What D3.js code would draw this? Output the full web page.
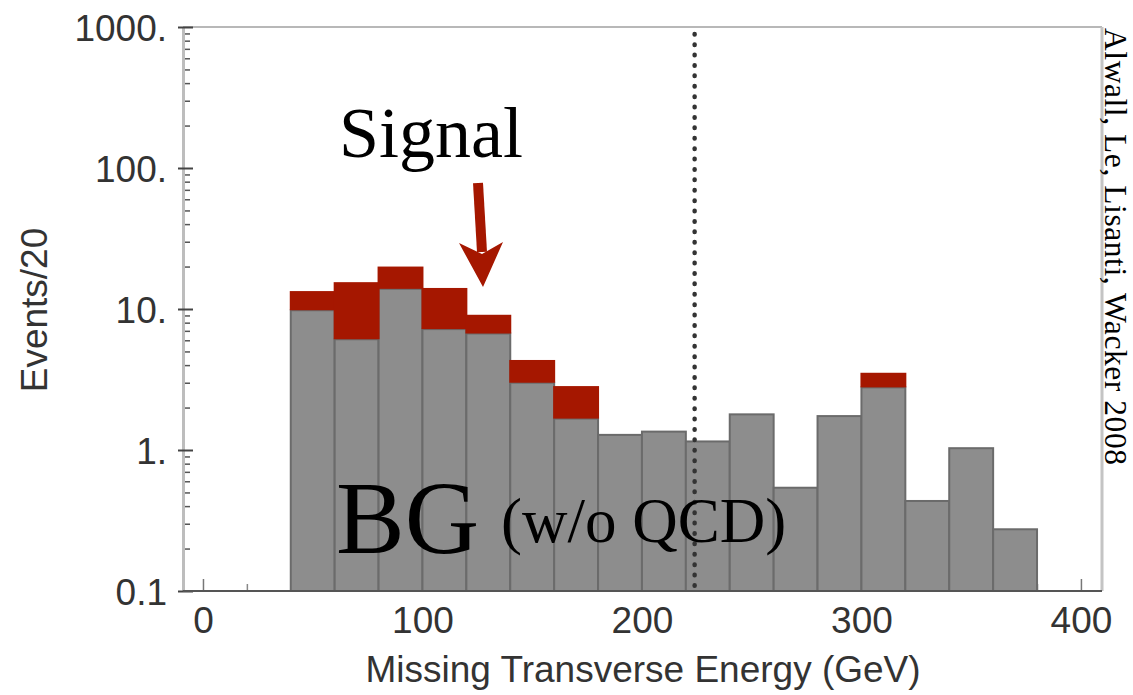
<!DOCTYPE html>
<html>
<head>
<meta charset="utf-8">
<script src="https://cdn.jsdelivr.net/npm/d3@7"></script>
<style>
  html, body { margin: 0; padding: 0; background: #fff; }
  svg { display: block; }
  .sans { font-family: "Liberation Sans", Arial, Helvetica, sans-serif; fill: #333; }
  .serif { font-family: "Liberation Serif", "Times New Roman", serif; fill: #000; }
</style>
</head>
<body>
<svg id="chart" width="1133" height="695"></svg>
<script>
// Missing transverse energy histogram: background (w/o QCD) with signal stacked on top
const binStarts   = [40, 60, 80, 100, 120, 140, 160, 180, 200, 220, 240, 260, 280, 300, 320, 340, 360];
const binWidth    = 20;
const bgValues    = [9.8, 6.1, 13.9, 7.2, 6.7, 3.0, 1.67, 1.28, 1.35, 1.15, 1.79, 0.54, 1.74, 2.78, 0.435, 1.03, 0.274];
const signalValues= [3.6, 9.4, 6.1, 6.9, 2.4, 1.35, 1.17, 0, 0, 0, 0, 0, 0, 0.75, 0, 0, 0];
const cutValue    = 224;
const yTickValues = [0.1, 1, 10, 100, 1000];
const yTickLabels = ["0.1", "1.", "10.", "100.", "1000."];
const xTickValues = [0, 100, 200, 300, 400];
const xTickLabels = ["0", "100", "200", "300", "400"];

const svg = d3.select("#chart");
const plotLeft = 183, plotRight = 1102, plotTop = 27, plotBottom = 591;

const x = d3.scaleLinear().domain([-9.1, 409.6]).range([plotLeft, plotRight]);
const y = d3.scaleLog().domain([0.1, 1000]).range([plotBottom, plotTop]);

// frame (top and right)
svg.append("line").attr("x1", plotLeft).attr("x2", plotRight).attr("y1", plotTop).attr("y2", plotTop)
  .attr("stroke", "#b8b8b8").attr("stroke-width", 2);
svg.append("line").attr("x1", plotRight).attr("x2", plotRight).attr("y1", plotTop).attr("y2", plotBottom)
  .attr("stroke", "#c4c4c4").attr("stroke-width", 3);

// x axis: minor ticks every 20 and labelled major ticks, pointing into the plot
const minorX = d3.range(0, 401, 20).filter(v => v % 100 !== 0);
const gxMinor = svg.append("g").attr("transform", `translate(0,${plotBottom})`)
  .call(d3.axisBottom(x).tickValues(minorX).tickSizeInner(-7).tickSizeOuter(0).tickFormat(""));
gxMinor.select(".domain").remove();
gxMinor.selectAll(".tick line").attr("stroke", "#888").attr("stroke-width", 1.5);

const gx = svg.append("g").attr("transform", `translate(0,${plotBottom})`)
  .call(d3.axisBottom(x).tickValues(xTickValues).tickSizeInner(-12).tickSizeOuter(0).tickPadding(14)
    .tickFormat((d, i) => xTickLabels[i]));
gx.select(".domain").remove();
gx.selectAll(".tick line").attr("stroke", "#777").attr("stroke-width", 1.5);
gx.selectAll(".tick text").attr("class", "sans").attr("font-size", 37).attr("fill", "#333")
  .attr("y", 0).attr("dy", 0).attr("transform", "translate(0,42)");

// y axis: decades labelled, minor ticks 2..9
const minorY = [];
for (let p = -1; p < 3; p++) for (let m = 2; m <= 9; m++) minorY.push(m * Math.pow(10, p));
const gyMinor = svg.append("g").attr("transform", `translate(${plotLeft},0)`)
  .call(d3.axisLeft(y).tickValues(minorY).tickSizeInner(-7).tickSizeOuter(0).tickFormat(""));
gyMinor.select(".domain").remove();
gyMinor.selectAll(".tick line").attr("stroke", "#555").attr("stroke-width", 1.5);

const gy = svg.append("g").attr("transform", `translate(${plotLeft},0)`)
  .call(d3.axisLeft(y).tickValues(yTickValues).tickSizeInner(-10).tickSizeOuter(0).tickPadding(16)
    .tickFormat((d, i) => yTickLabels[i]));
gy.select(".domain").attr("stroke", "#bdbdbd").attr("stroke-width", 3);
gy.selectAll(".tick line").attr("x1", -5).attr("stroke", "#444").attr("stroke-width", 2);
gy.selectAll(".tick text").attr("class", "sans").attr("font-size", 37).attr("fill", "#333").attr("dy", "0.36em");

// bars
const bins = binStarts.map((s, i) => ({ x0: s, x1: s + binWidth, bg: bgValues[i], sig: signalValues[i] }));

svg.append("g").selectAll("rect.bg").data(bins).join("rect")
  .attr("class", "bg")
  .attr("x", d => x(d.x0))
  .attr("width", d => x(d.x1) - x(d.x0))
  .attr("y", d => y(d.bg))
  .attr("height", d => plotBottom - y(d.bg))
  .attr("fill", "#8d8d8d")
  .attr("stroke", "#6b6b6b")
  .attr("stroke-width", 2);

svg.append("g").selectAll("rect.sig").data(bins.filter(d => d.sig > 0)).join("rect")
  .attr("class", "sig")
  .attr("x", d => x(d.x0) - 1)
  .attr("width", d => x(d.x1) - x(d.x0) + 2)
  .attr("y", d => y(d.bg + d.sig))
  .attr("height", d => y(d.bg) - y(d.bg + d.sig))
  .attr("fill", "#a51700");

// bottom axis line
svg.append("line").attr("x1", plotLeft).attr("x2", plotRight).attr("y1", plotBottom).attr("y2", plotBottom)
  .attr("stroke", "#555").attr("stroke-width", 2);

// cut line
svg.append("line")
  .attr("x1", x(cutValue)).attr("x2", x(cutValue))
  .attr("y1", plotTop + 7).attr("y2", plotBottom - 4)
  .attr("stroke", "#333").attr("stroke-width", 4.5)
  .attr("stroke-linecap", "round")
  .attr("stroke-dasharray", "0.5,9.9");

// axis titles
svg.append("text").attr("class", "sans")
  .attr("transform", "translate(47,310) rotate(-90)")
  .attr("text-anchor", "middle").attr("font-size", 37).text("Events/20");

svg.append("text").attr("class", "sans")
  .attr("x", 643).attr("y", 682)
  .attr("text-anchor", "middle").attr("font-size", 37).text("Missing Transverse Energy (GeV)");

// annotations
svg.append("text").attr("class", "serif")
  .attr("x", 339).attr("y", 157).attr("font-size", 72).text("Signal");

const arrowColor = "#a51700";
svg.append("line").attr("x1", 478).attr("y1", 183).attr("x2", 482).attr("y2", 252)
  .attr("stroke", arrowColor).attr("stroke-width", 10);
svg.append("path")
  .attr("d", "M459,243 L483,287 L503,242 L482,254 Z")
  .attr("fill", arrowColor);

svg.append("text").attr("class", "serif")
  .attr("x", 336).attr("y", 553).attr("font-size", 103).text("BG");
svg.append("text").attr("class", "serif")
  .attr("x", 501).attr("y", 542).attr("font-size", 63).text("(w/o QCD)");

svg.append("text").attr("class", "serif")
  .attr("transform", "translate(1105,28) rotate(90)")
  .attr("font-size", 31.5).attr("textLength", 437).attr("lengthAdjust", "spacing")
  .text("Alwall, Le, Lisanti, Wacker 2008");
</script>
</body>
</html>
